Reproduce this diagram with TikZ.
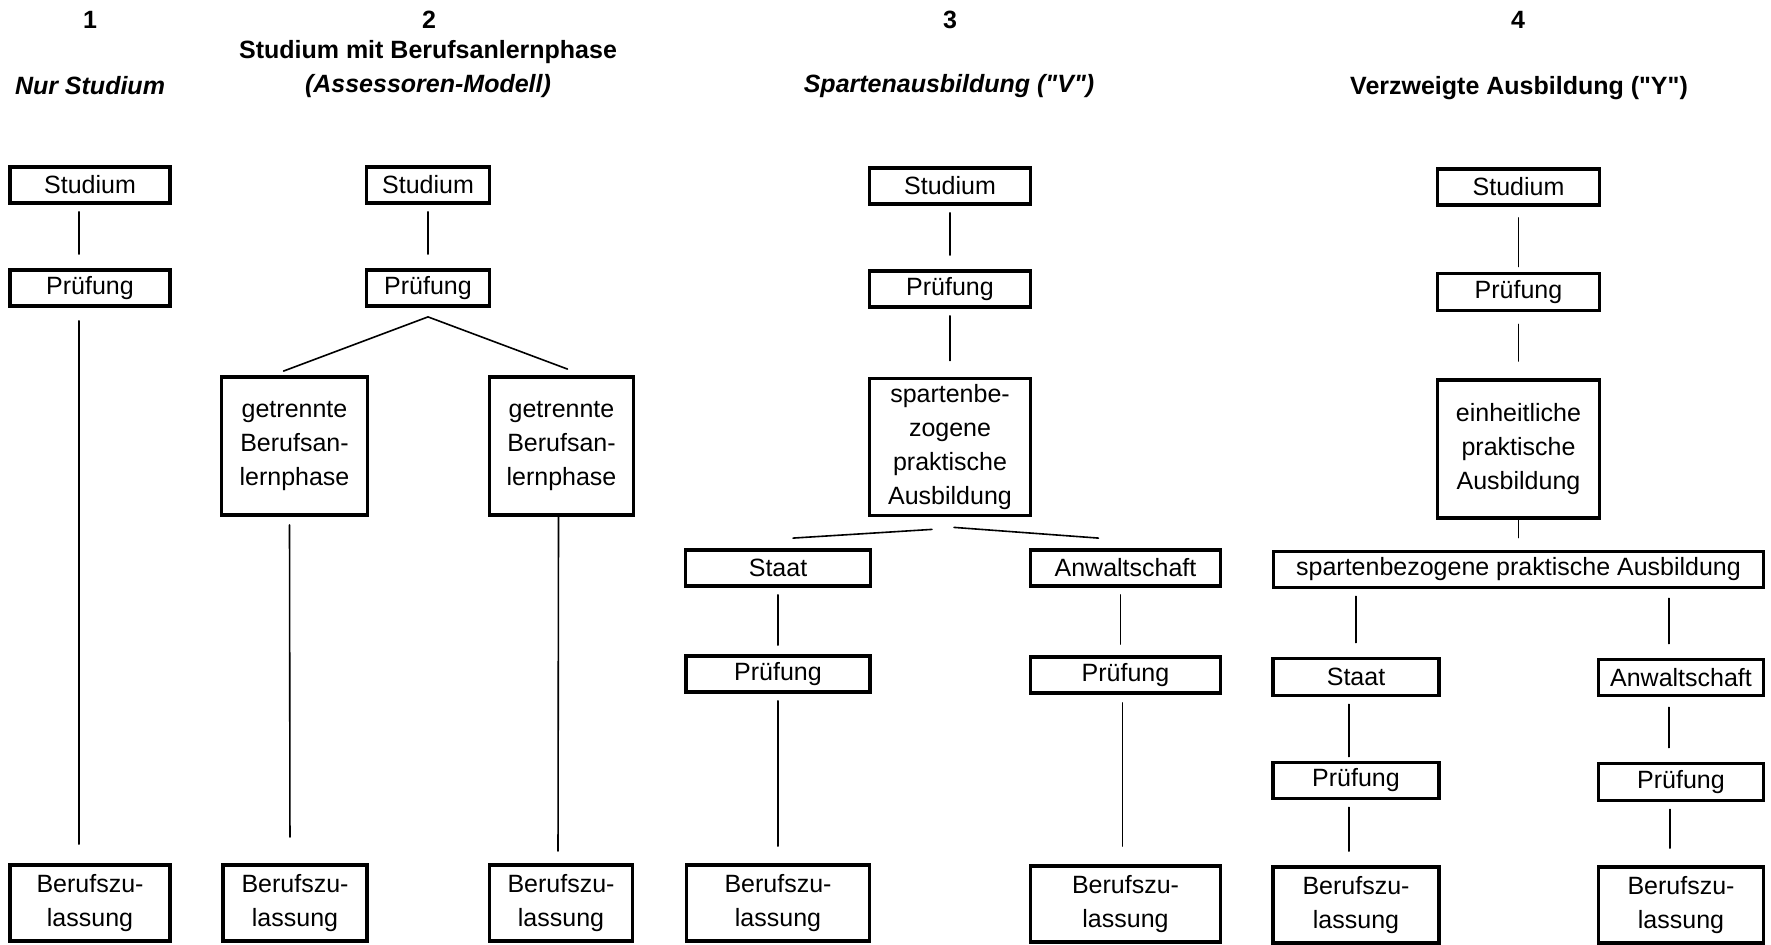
\documentclass[tikz,border=0pt]{standalone}
\usepackage{fontspec}
\setmainfont{Liberation Sans}[Ligatures=TeXOff]
\usetikzlibrary{calc}

\begin{document}
\begin{tikzpicture}
[x=0.5pt,y=-0.5pt,line cap=round,
% Styles
box/.style={draw,line width=1.9pt,inner sep=0pt,align=center,
  font=\fontsize{12.5}{17}\selectfont},
single/.style={box,minimum height=18pt},
double/.style={box,minimum height=38pt},
block/.style={box,minimum height=69pt},
conn/.style={line width=0.8pt,shorten <=3.5pt,shorten >=7pt},
heading/.style={font=\fontsize{12.5}{17}\selectfont\bfseries,align=center}]
\useasboundingbox (0,0) rectangle (1771,945);
% Headings
\foreach \x/\n in {90/1,429/2,950/3,1518/4}
\node[heading] (n\n) at (\x,20) {\n};
\node[heading] (t1) at (90,86) {\itshape Nur Studium};
\node[heading] (t2) at (428,69) {Studium mit Berufsanlernphase\\\itshape (Assessoren-Modell)};
\node[heading] (t3) at (949,86) {\itshape Spartenausbildung ("V")};
\node[heading] (t4) at (1519,88) {Verzweigte Ausbildung ("Y")};
% Column 1
\node[single,minimum width=80pt] (s1) at (90,185) {Studium};
\node[single,minimum width=80pt] (p1) at (90,288) {Prüfung};
\node[double,minimum width=80pt] (b1) at (90,903) {Berufszu-\\lassung};
\draw[conn] ($(s1.south)+(-11,0)$) -- ($(p1.north)+(-11,0)$);
\draw[conn,shorten <=6.5pt,shorten >=9.5pt] ($(p1.south)+(-11,0)$) -- ($(b1.north)+(-11,0)$);
% Column 2
\node[single,minimum width=61.5pt] (s2) at (428,185) {Studium};
\node[single,minimum width=61.5pt] (p2) at (428,288) {Prüfung};
\node[block,minimum width=73pt] (g2a) at (294.5,446) {getrennte\\Berufsan-\\lernphase};
\node[block,minimum width=72pt] (g2b) at (561.5,446) {getrennte\\Berufsan-\\lernphase};
\node[double,minimum width=72pt] (b2a) at (295,903) {Berufszu-\\lassung};
\node[double,minimum width=71.5pt] (b2b) at (561,903) {Berufszu-\\lassung};
\draw[conn] (s2) -- (p2);
\draw[line width=0.8pt] ($(g2a.north)+(-11,-4)$) -- ($(p2.south)+(0,9)$)
  -- ($(g2b.north)+(6,-6)$);
\draw[conn,shorten <=4pt,shorten >=13pt] ($(g2a.south)+(-5,0)$) -- ($(b2a.north)+(-5,0)$);
\draw[conn,shorten <=0pt,shorten >=6pt] ($(g2b.south)+(-3,0)$) -- ($(b2b.north)+(-3,0)$);
% Column 3
\node[single,minimum width=80.5pt] (s3) at (950,186) {Studium};
\node[single,minimum width=80.5pt] (p3) at (950,289) {Prüfung};
\node[block,minimum width=80.5pt,minimum height=68.5pt] (sp3) at (950,447)
  {spartenbe-\\zogene\\praktische\\Ausbildung};
\node[single,minimum width=92.5pt] (st3) at (778,568) {Staat};
\node[single,minimum width=95pt] (an3) at (1125.5,568) {Anwaltschaft};
\node[single,minimum width=92pt] (p3a) at (778,674) {Prüfung};
\node[single,minimum width=95pt] (p3b) at (1125.5,675) {Prüfung};
\node[double,minimum width=91.5pt] (b3a) at (778,903) {Berufszu-\\lassung};
\node[double,minimum width=95pt] (b3b) at (1125.5,904) {Berufszu-\\lassung};
\draw[conn] (s3) -- (p3);
\draw[conn,shorten >=8pt] (p3) -- (sp3);
\draw[line width=0.8pt] ($(sp3.south)+(-18,12)$) -- ($(st3.north)+(15,-10)$);
\draw[line width=0.8pt] ($(sp3.south)+(4,10)$) -- ($(an3.north)+(-27,-10)$);
\draw[conn,shorten >=4.5pt] (st3) -- (p3a);
\draw[conn,shorten >=5.5pt] ($(an3.south)+(-5,0)$) -- ($(p3b.north)+(-5,0)$);
\draw[conn,shorten >=8.5pt] (p3a) -- (b3a);
\draw[conn,shorten <=4pt,shorten >=9pt] ($(p3b.south)+(-3,0)$) -- ($(b3b.north)+(-3,0)$);
% Column 4
\node[single,minimum width=81pt] (s4) at (1518.5,187) {Studium};
\node[single,minimum width=81pt,minimum height=18.5pt] (p4) at (1518.5,292) {Prüfung};
\node[block,minimum width=81pt] (e4) at (1518.5,449) {einheitliche\\praktische\\Ausbildung};
\node[single,minimum width=245pt] (sp4) at (1518.5,569.5) {spartenbezogene praktische Ausbildung};
\node[single,minimum width=83pt,minimum height=18.5pt] (st4) at (1356,677) {Staat};
\node[single,minimum width=82.5pt] (an4) at (1681,677.5) {Anwaltschaft};
\node[single,minimum width=83pt] (p4a) at (1356,780.5) {Prüfung};
\node[single,minimum width=82.5pt,minimum height=18.5pt] (p4b) at (1681,782) {Prüfung};
\node[double,minimum width=83pt] (b4a) at (1356,905) {Berufszu-\\lassung};
\node[double,minimum width=82.5pt] (b4b) at (1681,905) {Berufszu-\\lassung};
\draw[conn,shorten <=5.5pt,shorten >=2.5pt] (s4) -- (p4);
\draw[conn,shorten <=6pt,shorten >=8.5pt] (p4) -- (e4);
\draw[conn,shorten <=0pt,shorten >=6pt] (e4) -- (sp4);
\draw[conn] (st4.north |- sp4.south) -- (st4.north);
\draw[conn,shorten <=4.5pt] ($(an4.north |- sp4.south)+(-12,0)$) -- ($(an4.north)+(-12,0)$);
\draw[conn,shorten >=2pt] ($(st4.south)+(-7,0)$) -- ($(p4a.north)+(-7,0)$);
\draw[conn] ($(p4a.south)+(-7,0)$) -- ($(b4a.north)+(-7,0)$);
\draw[conn,shorten <=5pt] ($(an4.south)+(-12,0)$) -- ($(p4b.north)+(-12,0)$);
\draw[conn,shorten >=8.5pt] ($(p4b.south)+(-11,0)$) -- ($(b4b.north)+(-11,0)$);
\end{tikzpicture}
\end{document}
